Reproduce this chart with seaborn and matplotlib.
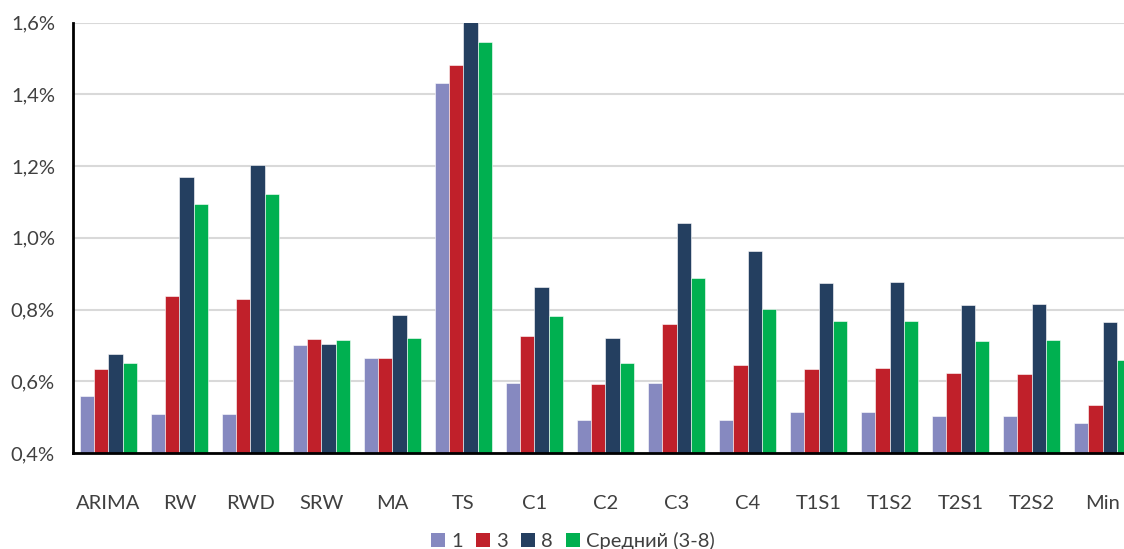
import matplotlib
matplotlib.use("Agg")
import matplotlib.pyplot as plt
from matplotlib.ticker import FuncFormatter, MultipleLocator
from matplotlib.patches import Patch
import pandas as pd
import seaborn as sns

# Forecast error by model, for horizons 1, 3, 8 and the 3-8 average (in %)
models = ["ARIMA", "RW", "RWD", "SRW", "MA", "TS", "C1", "C2", "C3", "C4",
          "T1S1", "T1S2", "T2S1", "T2S2", "Min"]
h1 = [0.560, 0.508, 0.510, 0.702, 0.666, 1.431, 0.594, 0.492, 0.594, 0.492,
      0.514, 0.513, 0.504, 0.503, 0.483]
h3 = [0.633, 0.837, 0.830, 0.719, 0.666, 1.483, 0.725, 0.591, 0.760, 0.645,
      0.635, 0.636, 0.622, 0.620, 0.535]
h8 = [0.677, 1.169, 1.204, 0.703, 0.786, 1.610, 0.863, 0.720, 1.042, 0.963,
      0.874, 0.877, 0.812, 0.815, 0.765]
avg = [0.650, 1.095, 1.122, 0.714, 0.721, 1.545, 0.781, 0.652, 0.888, 0.802,
       0.767, 0.769, 0.711, 0.715, 0.658]
series_names = ["1", "3", "8", "Средний (3-8)"]
colors = ["#8689C0", "#C0202A", "#243F60", "#00B050"]

rows = []
for name, vals in zip(series_names, [h1, h3, h8, avg]):
    for m, v in zip(models, vals):
        rows.append({"model": m, "value": v, "series": name})
df = pd.DataFrame(rows)

sns.set_theme(style="white")
plt.rcParams["font.family"] = ["Lato", "DejaVu Sans"]
text_color = "#404040"

fig = plt.figure(figsize=(11.24, 5.49), dpi=100)
ax = fig.add_axes([0.0649, 0.1749, 0.9476, 0.7838])

sns.barplot(data=df, x="model", y="value", hue="series", order=models,
            hue_order=series_names, palette=colors, width=0.8, gap=0,
            saturation=1, edgecolor="white", linewidth=0.4, ax=ax, zorder=3)

ax.set_xlim(-0.5, len(models) - 0.5)
ax.set_ylim(0.4, 1.6)
ax.yaxis.set_major_locator(MultipleLocator(0.2))
ax.yaxis.set_major_formatter(
    FuncFormatter(lambda v, _: f"{v:.1f}".replace(".", ",") + "%"))
ax.grid(axis="y", color="#D9D9D9", linewidth=1.5, zorder=0)
ax.set_axisbelow(True)

for side in ["top", "right"]:
    ax.spines[side].set_visible(False)
for side in ["left", "bottom"]:
    ax.spines[side].set_color("black")
    ax.spines[side].set_linewidth(2)
    ax.spines[side].set_zorder(4)

ax.set_xlabel("")
ax.set_ylabel("")
ax.tick_params(axis="x", length=0, pad=30, labelsize=14.5, labelcolor=text_color)
ax.tick_params(axis="y", length=0, pad=13, labelsize=14.5, labelcolor=text_color)

ax.get_legend().remove()
handles = [Patch(facecolor=c, edgecolor="none") for c in colors]
fig.legend(handles, series_names, loc="lower center",
           bbox_to_anchor=(0.51, -0.035), ncol=4, frameon=False,
           fontsize=14.5, labelcolor=text_color, handlelength=0.7,
           handleheight=0.7, handletextpad=0.3, columnspacing=0.65)

fig.savefig("out.png", dpi=100)
